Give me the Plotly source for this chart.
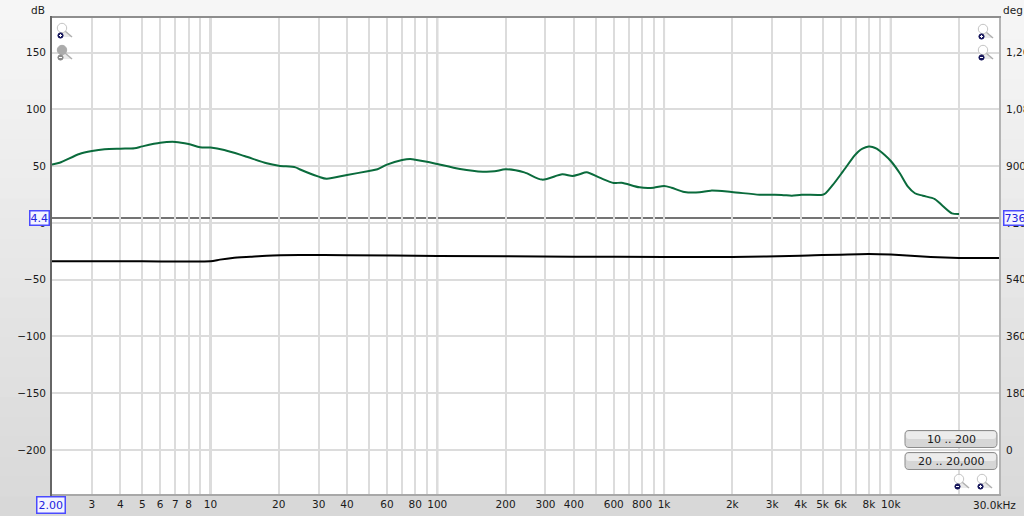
# -*- coding: utf-8 -*-
import plotly.graph_objects as go

W, H = 1024, 516
L, R, T, B = 52, 999, 18, 494

## curves
spl_freq = [2, 2.16, 2.64, 3, 3.41, 4, 4.62, 5, 6, 7, 8, 9, 10, 11.5, 14.1, 17.7, 20, 23.7, 24.7,
            30, 32.5, 40, 50, 54.5, 60, 70, 76, 80, 90, 100, 126, 159, 179, 200, 242, 290, 356,
            395, 424, 456, 520, 600, 650, 780, 900, 1000, 1080, 1230, 1435, 1607, 1986, 2640,
            3300, 3660, 4045, 5010, 5160, 5550, 6140, 6930, 7200, 7500, 7990, 8300, 8660, 9400, 10000,
            10960, 11900, 12770, 13850, 15630, 16950, 18600, 20000]
spl_db = [51.5, 53, 60.8, 63.4, 65, 65.5, 65.8, 67.5, 70.7, 71.4, 69.6, 66.7, 66.4, 64.3, 59, 52.6,
          50.5, 49, 47.3, 40.8, 39, 42.3, 45.8, 47.3, 51.4, 55.5, 56.4, 55.8, 54, 52, 47.6, 45.2,
          45.5, 47.3, 44.6, 38.2, 42.9, 41.4, 42.9, 44.7, 39.9, 35.2, 35.5, 31.4, 31.1, 32.6,
          31.1, 27.3, 27, 28.5, 27.3, 24.9, 24.7, 24, 24.9, 24.9, 26.2, 33.5, 45.2, 59.5, 63, 65.5,
          67.3, 67, 65.5, 59.9, 54.6, 43.8, 32, 26.2, 24, 21.1, 15, 8.5, 7.9]

black_freq = [2, 5, 10, 11, 12.5, 15, 17.7, 24.7, 40, 100, 400, 1000, 2000, 4000, 8000, 10000, 15000, 20000, 30000]
black_db = [-33.8, -33.8, -33.8, -32.3, -30.8, -29.8, -28.9, -28.3, -28.4, -29, -29.7, -30, -30, -28.8, -27.3, -27.8, -30, -30.8, -30.8]

cursor_db = 4.4
cursor_deg = 736
cursor_freq = "2.00"

x_grid = [3, 4, 5, 6, 7, 8, 9, 10, 20, 30, 40, 50, 60, 70, 80, 90, 100, 200, 300, 400, 500, 600, 700, 800, 900,
          1000, 2000, 3000, 4000, 5000, 6000, 7000, 8000, 9000, 10000, 20000]
x_text = ["3", "4", "5", "6", "7", "8", "", "10", "20", "30", "40", "", "60", "", "80", "", "100", "200", "300",
          "400", "", "600", "", "800", "", "1k", "2k", "3k", "4k", "5k", "6k", "", "8k", "", "10k", ""]
decades = [10, 100, 1000, 10000]

db_ticks = [150, 100, 50, 0, -50, -100, -150, -200]
deg_ticks = [1260, 1080, 900, 720, 540, 360, 180, 0]
deg_text = ["1,260", "1,080", "900", "720", "540", "360", "180", "0"]
buttons = ["10 .. 200", "20 .. 20,000"]

FONT = "DejaVu Sans"
TXT = "#1a1a1a"


def px(x):
    return (x - L) / (R - L)


def py(y):
    return (B - y) / (B - T)


shapes = []


def rect(x0, y0, x1, y1, fill, line=None, width=1):
    shapes.append(dict(type="rect", xref="paper", yref="paper", x0=px(x0), x1=px(x1), y0=py(y0), y1=py(y1),
                       fillcolor=fill, line=dict(color=line or fill, width=width if line else 0), layer="below"))


def seg(x0, y0, x1, y1, color, width=1, layer="above"):
    shapes.append(dict(type="line", xref="paper", yref="paper", x0=px(x0), x1=px(x1), y0=py(y0), y1=py(y1),
                       line=dict(color=color, width=width), layer=layer))


def circle(cx, cy, r, fill, line, width=1):
    shapes.append(dict(type="circle", xref="paper", yref="paper", x0=px(cx - r), x1=px(cx + r),
                       y0=py(cy + r), y1=py(cy - r), fillcolor=fill, line=dict(color=line, width=width), layer="above"))


def rounded(x0, y0, x1, y1, r, fill, line=None, layer="above"):
    p = "M%f,%f L%f,%f Q%f,%f %f,%f L%f,%f Q%f,%f %f,%f L%f,%f Q%f,%f %f,%f L%f,%f Q%f,%f %f,%f Z" % (
        px(x0 + r), py(y0), px(x1 - r), py(y0), px(x1), py(y0), px(x1), py(y0 + r),
        px(x1), py(y1 - r), px(x1), py(y1), px(x1 - r), py(y1),
        px(x0 + r), py(y1), px(x0), py(y1), px(x0), py(y1 - r),
        px(x0), py(y0 + r), px(x0), py(y0), px(x0 + r), py(y0))
    shapes.append(dict(type="path", path=p, xref="paper", yref="paper", fillcolor=fill,
                       line=dict(color=line or fill, width=1 if line else 0), layer=layer))


# window background, light at the top and darker at the bottom
for i in range(26):
    g = 246 - int(30 * i / 25)
    rect(0, i * H / 26, W, (i + 1) * H / 26 + 1, "rgb(%d,%d,%d)" % (g, g, g))
rect(L, T, R, B, "white")

# decade lines are darker than the rest of the grid
for d in decades:
    shapes.append(dict(type="line", xref="x", yref="paper", x0=d, x1=d, y0=0, y1=1,
                       line=dict(color="#b9b9b9", width=2), layer="below"))
# cursor line
shapes.append(dict(type="line", xref="paper", yref="y", x0=0, x1=1, y0=cursor_db, y1=cursor_db,
                   line=dict(color="#747474", width=2), layer="below"))

# frame
seg(R + 1, T - 1, R + 1, B + 1, "#b4b4b4", 2)
seg(L - 1, B + 1, R + 2, B + 1, "#a8a8a8", 2)
seg(L - 1, T - 1, R + 2, T - 1, "#8e8e8e", 2)
seg(L - 1, T - 2, L - 1, B + 2, "#666666", 2)


def magnifier(cx, cy, minus, grey=False):
    fill = "#ababab" if grey else "rgba(255,255,255,0.85)"
    edge = "#ababab" if grey else "#c4c4c4"
    shapes.append(dict(type="path", xref="paper", yref="paper", layer="above", fillcolor="rgba(225,225,225,0.7)",
                       line=dict(width=0),
                       path="M%f,%f L%f,%f L%f,%f Z" % (px(cx - 3), py(cy + 9), px(cx + 10), py(cy + 9), px(cx + 3), py(cy + 3))))
    seg(cx + 3, cy + 3, cx + 10, cy + 9, "#b0b0b0", 1.5)
    circle(cx, cy, 4.7, fill, edge)
    bx, by = cx - 1.5, cy + 7.5
    circle(bx, by, 2.6, "#8a8a8a" if grey else "#14145a", "#8a8a8a" if grey else "#14145a")
    seg(bx - 1.5, by, bx + 1.5, by, "white", 1)
    if not minus:
        seg(bx, by - 1.5, bx, by + 1.5, "white", 1)


magnifier(62, 28, False)
magnifier(62, 50, True, grey=True)
magnifier(983, 29, False)
magnifier(983, 50, True)
magnifier(959, 479, True)
magnifier(982, 479, False)

# range buttons
annotations = []
for (y0, y1), label in zip([(430.5, 447.5), (452.5, 469.5)], buttons):
    rounded(905, y0, 997, y1, 4, "#d6d6d6", "#8c8c8c")
    rounded(906, y0 + 1, 996, (y0 + y1) / 2, 3, "#ececec")
    annotations.append(dict(xref="paper", yref="paper", x=px(951), y=py((y0 + y1) / 2), text=label, showarrow=False,
                            font=dict(family=FONT, size=11, color=TXT), xanchor="center", yanchor="middle"))

# cursor readouts and axis captions
box = dict(showarrow=False, bgcolor="#f4f4ff", bordercolor="#4a4aff", borderwidth=1.5, borderpad=0,
           font=dict(family=FONT, size=11, color="#2222dd"), xref="paper", yref="paper")
annotations += [
    dict(box, x=px(39.5), y=py(218.5), text=str(cursor_db), xanchor="center", yanchor="middle"),
    dict(box, x=px(1003), y=py(218.5), text=str(cursor_deg), xanchor="left", yanchor="middle"),
    dict(box, x=px(51), y=py(505), text=cursor_freq, xanchor="center", yanchor="middle", borderpad=1),
    dict(xref="paper", yref="paper", x=px(47), y=py(9.5), text="dB", showarrow=False, xanchor="right", yanchor="middle",
         font=dict(family=FONT, size=10.5, color=TXT)),
    dict(xref="paper", yref="paper", x=px(1001), y=py(9.5), text="deg", showarrow=False, xanchor="left", yanchor="middle",
         font=dict(family=FONT, size=10.5, color=TXT)),
    dict(xref="paper", yref="paper", x=px(994), y=py(505), text="30.0kHz", showarrow=False, xanchor="center", yanchor="middle",
         font=dict(family=FONT, size=10.5, color=TXT)),
]

fig = go.Figure()
fig.add_trace(go.Scatter(x=spl_freq, y=spl_db, mode="lines", line=dict(color="#0a6b3c", width=2, shape="spline", smoothing=0.8),
                         hoverinfo="x+y", name="SPL"))
fig.add_trace(go.Scatter(x=black_freq, y=black_db, mode="lines", line=dict(color="#000000", width=2, shape="spline", smoothing=0.6),
                         hoverinfo="x+y", name="Phase"))
# keeps the right hand axis alive
fig.add_trace(go.Scatter(x=[2], y=[0], yaxis="y2", mode="lines", hoverinfo="skip", showlegend=False))

DB_RANGE = [-238.8, 180.6]
fig.update_layout(
    width=W, height=H, autosize=False,
    margin=dict(l=L, r=W - R, t=T, b=H - B, pad=0),
    paper_bgcolor="#e6e6e6", plot_bgcolor="white", showlegend=False,
    font=dict(family=FONT, size=10.5, color=TXT),
    shapes=shapes, annotations=annotations,
    xaxis=dict(type="log", range=[0.30103, 4.47712], tickmode="array", tickvals=x_grid, ticktext=x_text,
               showgrid=True, gridcolor="#dcdcdc", gridwidth=1.6, ticks="", zeroline=False, showline=False,
               tickangle=0, ticklabelstandoff=2, automargin=False),
    yaxis=dict(range=DB_RANGE, tickmode="array", tickvals=db_ticks, showgrid=True, gridcolor="#dcdcdc", gridwidth=1.6,
               ticks="", zeroline=False, showline=False, ticklabelstandoff=5, automargin=False),
    yaxis2=dict(overlaying="y", side="right", range=[720 + 3.6 * v for v in DB_RANGE], tickmode="array",
                tickvals=deg_ticks, ticktext=deg_text, showgrid=False, ticks="", zeroline=False, showline=False,
                ticklabelstandoff=6, automargin=False),
)

fig.write_html("out.html", config=dict(displayModeBar=False),
               post_script="document.body.style.margin='0';document.body.style.overflow='hidden';")
